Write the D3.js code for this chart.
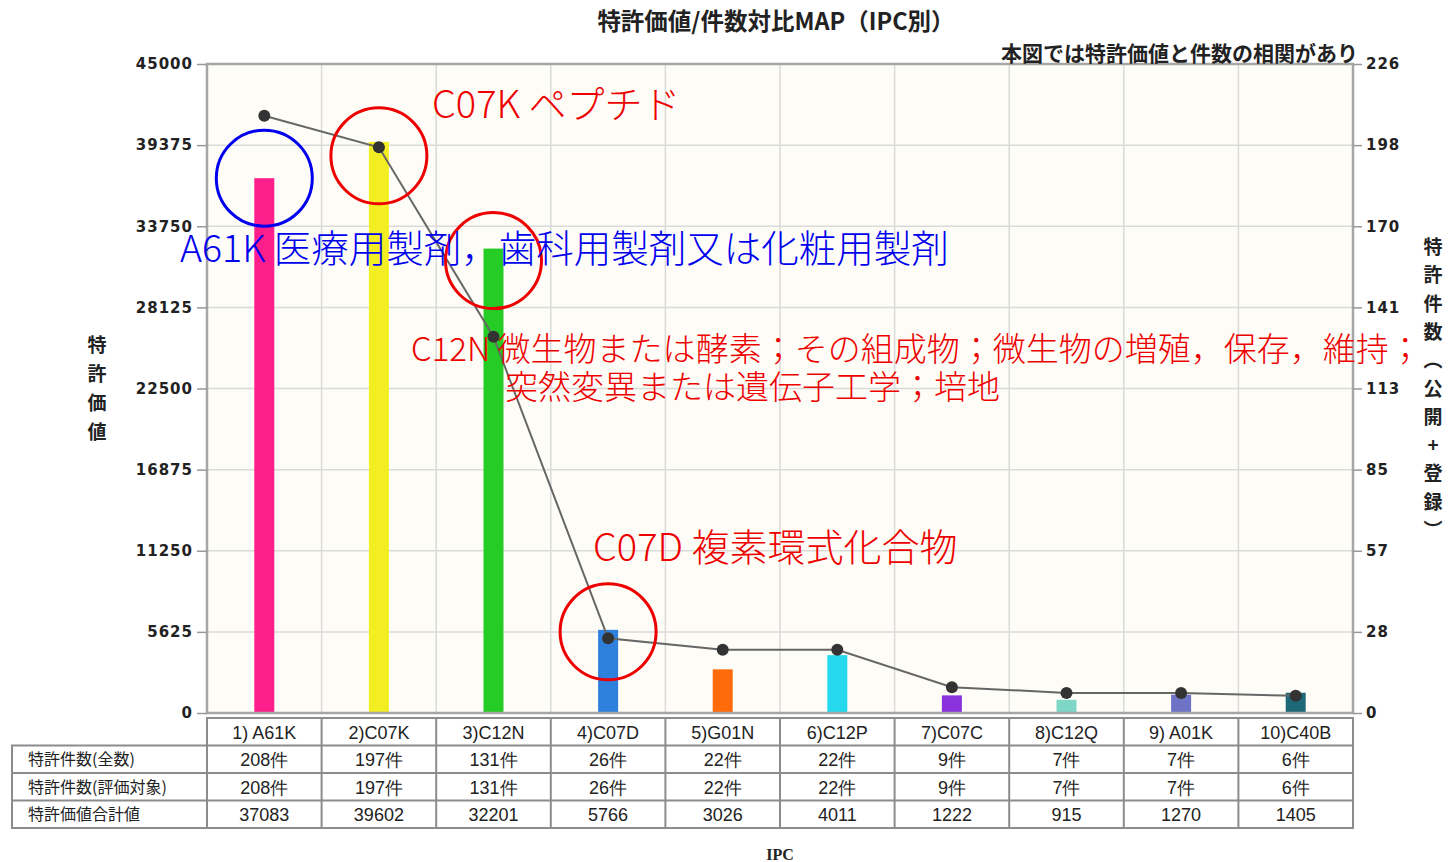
<!DOCTYPE html>
<html>
<head>
<meta charset="utf-8">
<script src="https://cdn.jsdelivr.net/npm/d3@7"></script>
<style>
body { margin: 0; background: #fff; }
text { font-family: "Noto Sans CJK JP", sans-serif; }
.axis text { font-family: "DejaVu Sans", sans-serif; font-weight: bold; font-size: 15px; letter-spacing: 1px; fill: #222; }
.axis line { stroke: #999; stroke-width: 1.5; }
.cell { font-family: "Liberation Sans Narrow", "Liberation Sans", sans-serif; font-size: 18px; fill: #222; }
.note { font-weight: 300; }
</style>
</head>
<body>
<div id="graf"></div>
<script>
// values
var categories = ["A61K", "C07K", "C12N", "C07D", "G01N", "C12P", "C07C", "C12Q", "A01K", "C40B"];
var headerLabels = ["1) A61K", "2)C07K", "3)C12N", "4)C07D", "5)G01N", "6)C12P", "7)C07C", "8)C12Q", "9) A01K", "10)C40B"];
var countAll = [208, 197, 131, 26, 22, 22, 9, 7, 7, 6];
var countEval = [208, 197, 131, 26, 22, 22, 9, 7, 7, 6];
var valueSum = [37083, 39602, 32201, 5766, 3026, 4011, 1222, 915, 1270, 1405];
var barColors = ["#ff1f8c", "#f2ee22", "#26cc26", "#2f7fdc", "#ff6a0a", "#25d8ee", "#8a33dd", "#7ed6c6", "#6f73c6", "#1e6878"];
var rowLabels = ["特許件数(全数)", "特許件数(評価対象)", "特許価値合計値"];
var valueMax = 45000;
var countMax = 226;

// annotations: circled categories and notes
var circled = [{cat: "A61K", color: "#0000ee", dy: 0}, {cat: "C07K", color: "#ee0000", dy: 14},
               {cat: "C12N", color: "#ee0000", dy: 12}, {cat: "C07D", color: "#ee0000", dy: 2}];
var notes = [
    {lines: ["C07K ペプチド"], color: "#ee0000"},
    {lines: ["A61K 医療用製剤，歯科用製剤又は化粧用製剤"], color: "#0000ee"},
    {lines: ["C12N 微生物または酵素；その組成物；微生物の増殖，保存，維持；", "突然変異または遺伝子工学；培地"], color: "#ee0000"},
    {lines: ["C07D 複素環式化合物"], color: "#ee0000"}
];

var margin = {top: 64, left: 207},
    width = 1146,
    height = 649;

var svg = d3.select("#graf").append("svg")
    .attr("width", 1450)
    .attr("height", 862);

var g = svg.append("g").attr("transform", "translate(" + margin.left + "," + margin.top + ")");

var xChart = d3.scaleBand().domain(categories).range([0, width]).padding(0);
var yChart = d3.scaleLinear().domain([0, valueMax]).range([height, 0]);
var yCount = d3.scaleLinear().domain([0, countMax]).range([height, 0]);

var leftTicks = d3.range(0, 9).map(function(k){ return valueMax * k / 8; });
var rightTicks = d3.range(0, 9).map(function(k){ return countMax * k / 8; });

// plot background
g.append("rect")
    .attr("width", width)
    .attr("height", height)
    .attr("fill", "#fdfcf6");

// grid
g.selectAll(".hgrid")
    .data(leftTicks)
    .enter().append("line")
    .attr("x1", 0).attr("x2", width)
    .attr("y1", function(d){ return yChart(d); })
    .attr("y2", function(d){ return yChart(d); })
    .attr("stroke", "#dadada").attr("stroke-width", 1.5);

g.selectAll(".vgrid")
    .data(categories.slice(1))
    .enter().append("line")
    .attr("x1", function(d){ return xChart(d); })
    .attr("x2", function(d){ return xChart(d); })
    .attr("y1", 0).attr("y2", height)
    .attr("stroke", "#dadada").attr("stroke-width", 1.5);

// bars
var barW = 20;
g.selectAll(".bar")
    .data(valueSum)
    .enter().append("rect")
    .attr("class", "bar")
    .attr("x", function(d, i){ return xChart(categories[i]) + xChart.bandwidth() / 2 - barW / 2; })
    .attr("y", function(d){ return yChart(d); })
    .attr("width", barW)
    .attr("height", function(d){ return height - yChart(d); })
    .attr("fill", function(d, i){ return barColors[i]; });

// count line
var line = d3.line()
    .x(function(d, i){ return xChart(categories[i]) + xChart.bandwidth() / 2; })
    .y(function(d){ return yCount(d); });

g.append("path")
    .datum(countAll)
    .attr("d", line)
    .attr("fill", "none")
    .attr("stroke", "#666")
    .attr("stroke-width", 2);

g.selectAll(".dot")
    .data(countAll)
    .enter().append("circle")
    .attr("cx", function(d, i){ return xChart(categories[i]) + xChart.bandwidth() / 2; })
    .attr("cy", function(d){ return yCount(d); })
    .attr("r", 6)
    .attr("fill", "#333");

// frame
g.append("rect")
    .attr("width", width)
    .attr("height", height)
    .attr("fill", "none")
    .attr("stroke", "#a6a6a6")
    .attr("stroke-width", 2.5);

// axes
g.append("g")
    .attr("class", "axis")
    .call(d3.axisLeft(yChart).tickValues(leftTicks).tickSize(10).tickPadding(4).tickFormat(d3.format("d")))
    .select(".domain").remove();

g.append("g")
    .attr("class", "axis")
    .attr("transform", "translate(" + width + ",0)")
    .call(d3.axisRight(yCount).tickValues(rightTicks).tickSize(9).tickPadding(4)
        .tickFormat(function(d){ return Math.round(d); }))
    .select(".domain").remove();

// circles around the highlighted bars
g.selectAll(".ring")
    .data(circled)
    .enter().append("circle")
    .attr("cx", function(d){ return xChart(d.cat) + xChart.bandwidth() / 2; })
    .attr("cy", function(d){ return yChart(valueSum[categories.indexOf(d.cat)]) + d.dy; })
    .attr("r", 48)
    .attr("fill", "none")
    .attr("stroke", function(d){ return d.color; })
    .attr("stroke-width", 3);

// notes
var notePos = [{x: 432, y: 118, size: 38, indent: 0},
               {x: 180, y: 262, size: 37.5, indent: 0},
               {x: 411, y: 361, size: 33, indent: 94},
               {x: 593, y: 561, size: 38, indent: 0}];
notes.forEach(function(n, i){
    var p = notePos[i];
    n.lines.forEach(function(t, j){
        svg.append("text")
            .attr("class", "note")
            .attr("x", p.x + (j > 0 ? p.indent : 0))
            .attr("y", p.y + j * 38)
            .attr("fill", n.color)
            .style("font-size", p.size + "px")
            .text(t);
    });
});

// titles
svg.append("text")
    .attr("x", 776).attr("y", 30)
    .attr("text-anchor", "middle")
    .style("font-size", "23.5px").style("font-weight", "bold").attr("fill", "#222")
    .text("特許価値/件数対比MAP（IPC別）");

svg.append("text")
    .attr("x", 1358).attr("y", 61)
    .attr("text-anchor", "end")
    .style("font-size", "21px").style("font-weight", "bold").attr("fill", "#222")
    .text("本図では特許価値と件数の相関があり");

svg.selectAll(".ltitle")
    .data("特許価値".split(""))
    .enter().append("text")
    .attr("x", 97)
    .attr("y", function(d, i){ return 352 + i * 29; })
    .attr("text-anchor", "middle")
    .style("font-size", "19px").style("font-weight", "bold").attr("fill", "#222")
    .text(function(d){ return d; });

svg.selectAll(".rtitle")
    .data(["特", "許", "件", "数", "︵", "公", "開", "+", "登", "録", "︶"])
    .enter().append("text")
    .attr("x", 1433)
    .attr("y", function(d, i){ return 254 + i * 28.3; })
    .attr("text-anchor", "middle")
    .style("font-size", "19px").style("font-weight", "bold").attr("fill", "#222")
    .text(function(d){ return d; });

svg.append("text")
    .attr("x", 780).attr("y", 860)
    .attr("text-anchor", "middle")
    .style("font-family", "'Liberation Serif', serif")
    .style("font-size", "16px").style("font-weight", "bold").attr("fill", "#222")
    .text("IPC");

// table under the chart
var t = svg.append("g");
var tableTop = 718, rowH = 27.5, labelLeft = 12;
var rows = [countAll.map(function(d){ return d + "件"; }),
            countEval.map(function(d){ return d + "件"; }),
            valueSum.map(function(d){ return String(d); })];

var lineColor = "#8c8c8c";
// header row
t.append("rect")
    .attr("x", margin.left).attr("y", tableTop)
    .attr("width", width).attr("height", rowH * 4)
    .attr("fill", "none").attr("stroke", lineColor).attr("stroke-width", 2);
t.append("rect")
    .attr("x", labelLeft).attr("y", tableTop + rowH)
    .attr("width", margin.left + width - labelLeft).attr("height", rowH * 3)
    .attr("fill", "none").attr("stroke", lineColor).attr("stroke-width", 2);
[2, 3].forEach(function(r){
    t.append("line")
        .attr("x1", labelLeft).attr("x2", margin.left + width)
        .attr("y1", tableTop + rowH * r).attr("y2", tableTop + rowH * r)
        .attr("stroke", lineColor).attr("stroke-width", 2);
});
t.selectAll(".col")
    .data(categories.slice(1))
    .enter().append("line")
    .attr("x1", function(d){ return margin.left + xChart(d); })
    .attr("x2", function(d){ return margin.left + xChart(d); })
    .attr("y1", tableTop).attr("y2", tableTop + rowH * 4)
    .attr("stroke", lineColor).attr("stroke-width", 2);

t.selectAll(".head")
    .data(headerLabels)
    .enter().append("text")
    .attr("class", "cell")
    .attr("x", function(d, i){ return margin.left + xChart(categories[i]) + xChart.bandwidth() / 2; })
    .attr("y", tableTop + rowH / 2 + 7)
    .attr("text-anchor", "middle")
    .text(function(d){ return d; });

rows.forEach(function(row, r){
    t.append("text")
        .attr("x", 28)
        .attr("y", tableTop + rowH * (r + 1) + rowH / 2 + 6)
        .style("font-size", "16px").attr("fill", "#222")
        .text(rowLabels[r]);
    t.selectAll(".r" + r)
        .data(row)
        .enter().append("text")
        .attr("class", "cell")
        .attr("x", function(d, i){ return margin.left + xChart(categories[i]) + xChart.bandwidth() / 2; })
        .attr("y", tableTop + rowH * (r + 1) + rowH / 2 + 7)
        .attr("text-anchor", "middle")
        .text(function(d){ return d; });
});
</script>
</body>
</html>
